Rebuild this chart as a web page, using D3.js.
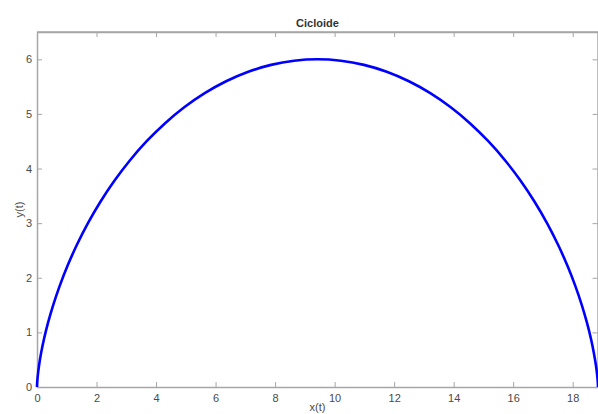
<!DOCTYPE html>
<html>
<head>
<meta charset="utf-8">
<script src="https://cdn.jsdelivr.net/npm/d3@7"></script>
<style>
  body { margin: 0; background: #fff; }
  svg { display: block; font-family: "Liberation Sans", Arial, sans-serif; }
</style>
</head>
<body>
<div id="chart"></div>
<script>
// points (x(t), y(t))
const xValues = [
    0, 0.001, 0.009, 0.030, 0.071, 0.137, 0.235, 0.369, 0.544, 0.763,
    1.029, 1.345, 1.712, 2.131, 2.600, 3.119, 3.685, 4.296, 4.947, 5.635,
    6.354, 7.099, 7.863, 8.641, 9.425, 10.209, 10.987, 11.751, 12.496, 13.215,
    13.902, 14.554, 15.164, 15.731, 16.250, 16.719, 17.137, 17.504, 17.820, 18.087,
    18.306, 18.481, 18.615, 18.712, 18.779, 18.820, 18.841, 18.848, 18.850
];
const yValues = [
    0, 0.026, 0.102, 0.228, 0.402, 0.620, 0.879, 1.174, 1.500, 1.852,
    2.224, 2.608, 3.000, 3.392, 3.776, 4.148, 4.500, 4.826, 5.121, 5.380,
    5.598, 5.772, 5.898, 5.974, 6.000, 5.974, 5.898, 5.772, 5.598, 5.380,
    5.121, 4.826, 4.500, 4.148, 3.776, 3.392, 3.000, 2.608, 2.224, 1.852,
    1.500, 1.174, 0.879, 0.620, 0.402, 0.228, 0.102, 0.026, 0
];
const xTicks = [0, 2, 4, 6, 8, 10, 12, 14, 16, 18];
const yTicks = [0, 1, 2, 3, 4, 5, 6];

const TITLE = "Cicloide";
const X_LAB = "x(t)";
const Y_LAB = "y(t)";

const WIDTH = 598, HEIGHT = 414;
const margin = {top: 32, right: 0, bottom: 27, left: 37};
const w = WIDTH - margin.left - margin.right,
      h = HEIGHT - margin.top - margin.bottom;

const AXIS_COLOR = "#a6a6a6";
const TEXT_COLOR = "#4a4a4a";
const TICK = 5;

const xScale = d3.scaleLinear().domain([0, 18.85]).range([0, w]);
const yScale = d3.scaleLinear().domain([0, 6.5]).range([h, 0]);

const svg = d3.select("#chart").append("svg")
    .attr("width", WIDTH)
    .attr("height", HEIGHT);

const g = svg.append("g")
    .attr("transform", `translate(${margin.left}, ${margin.top})`);

// axes (matlab style box, ticks inward)
const styleAxis = sel => {
    sel.select(".domain").attr("stroke", AXIS_COLOR).attr("stroke-width", 1.5);
    sel.selectAll(".tick line").attr("stroke", AXIS_COLOR);
    sel.selectAll(".tick text").attr("fill", TEXT_COLOR).style("font-size", "11px");
};

g.append("g")
    .attr("transform", `translate(0, ${h})`)
    .call(d3.axisBottom(xScale).tickValues(xTicks).tickFormat(d3.format("d"))
        .tickSizeInner(-TICK).tickSizeOuter(0).tickPadding(7))
    .call(styleAxis);

g.append("g")
    .call(d3.axisTop(xScale).tickValues(xTicks).tickSizeInner(-TICK).tickSizeOuter(0).tickFormat(""))
    .call(styleAxis);

g.append("g")
    .call(d3.axisLeft(yScale).tickValues(yTicks).tickFormat(d3.format("d"))
        .tickSizeInner(-TICK).tickSizeOuter(0).tickPadding(5))
    .call(styleAxis);

g.append("g")
    .attr("transform", `translate(${w - 0.5}, 0)`)
    .call(d3.axisRight(yScale).tickValues(yTicks).tickSizeInner(-TICK).tickSizeOuter(0).tickFormat(""))
    .call(styleAxis);

// top edge of the box goes a bit above 6
g.append("line")
    .attr("x1", 0).attr("x2", w)
    .attr("y1", 0).attr("y2", 0)
    .attr("stroke", AXIS_COLOR).attr("stroke-width", 1.5);

// curve
const pts = xValues.map((x, i) => [x, yValues[i]]);
g.append("path")
    .datum(pts)
    .attr("fill", "none")
    .attr("stroke", "#0000ff")
    .attr("stroke-width", 2.6)
    .attr("d", d3.line().x(d => xScale(d[0])).y(d => yScale(d[1])).curve(d3.curveCatmullRom));

// title
g.append("text")
    .attr("x", w / 2)
    .attr("y", -5)
    .attr("text-anchor", "middle")
    .attr("fill", "#333")
    .style("font-size", "11px")
    .style("font-weight", "bold")
    .text(TITLE);

// x-label (sits at the very bottom edge)
g.append("text")
    .attr("x", w / 2)
    .attr("y", h + 24)
    .attr("text-anchor", "middle")
    .attr("fill", TEXT_COLOR)
    .style("font-size", "11px")
    .text(X_LAB);

// y-label
g.append("text")
    .attr("transform", "rotate(-90)")
    .attr("x", -h / 2)
    .attr("y", -14)
    .attr("text-anchor", "middle")
    .attr("fill", TEXT_COLOR)
    .style("font-size", "11px")
    .text(Y_LAB);
</script>
</body>
</html>
